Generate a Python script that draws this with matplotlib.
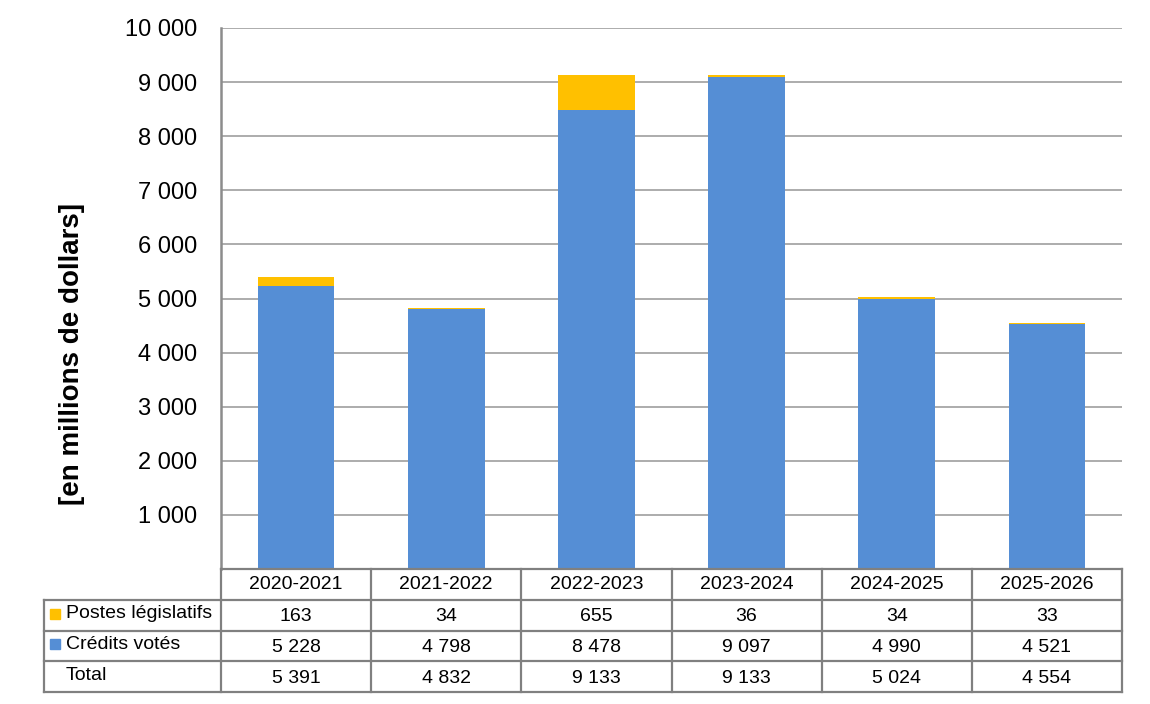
import numpy as np
import matplotlib.pyplot as plt

plt.rcParams['font.family'] = ['Liberation Sans', 'DejaVu Sans']

annees = ['2020-2021', '2021-2022', '2022-2023', '2023-2024', '2024-2025', '2025-2026']
postes_leg = [163, 34, 655, 36, 34, 33]
credits_votes = [5228, 4798, 8478, 9097, 4990, 4521]
totaux = [5391, 4832, 9133, 9133, 5024, 4554]
yticks = [1000, 2000, 3000, 4000, 5000, 6000, 7000, 8000, 9000, 10000]

BLEU = '#558ED5'
JAUNE = '#FFC000'
GRILLE = '#A6A6A6'
BORD = '#808080'


def fmt(v):
    # espace comme séparateur de milliers
    return '{:,}'.format(v).replace(',', ' ')


W, H = 1150, 704
fig = plt.figure(figsize=(W / 100, H / 100), dpi=100)

# graphique
ax = fig.add_axes([221 / W, (H - 569) / H, (1122 - 221) / W, (569 - 28) / H])
x = np.arange(len(annees))
ax.bar(x, credits_votes, width=0.51, color=BLEU, zorder=3)
ax.bar(x, postes_leg, width=0.51, bottom=credits_votes, color=JAUNE, zorder=3)
ax.set_xlim(-0.5, len(annees) - 0.5)
ax.set_ylim(0, 10000)
ax.set_yticks(yticks)
ax.set_yticklabels([fmt(v) for v in yticks], fontsize=17)
ax.set_xticks([])
ax.tick_params(axis='y', length=0, pad=17)
ax.grid(axis='y', color=GRILLE, lw=1.3, zorder=0)
for s in ['top', 'right', 'bottom']:
    ax.spines[s].set_visible(False)
ax.spines['left'].set_color('#8C8C8C')
ax.spines['left'].set_linewidth(1.8)
fig.text(72 / W, 1 - 354 / H, '[en millions de dollars]', rotation=90,
         fontsize=20, fontweight='bold', ha='center', va='center')

# tableau de données
x_gauche = -0.5 - (221 - 44) / ((1122 - 221) / len(annees))
tx = fig.add_axes([44 / W, (H - 692) / H, (1122 - 44) / W, (692 - 569) / H])
tx.set_xlim(x_gauche, len(annees) - 0.5)
tx.set_ylim(4, 0)
tx.axis('off')
lw = 1.6
# lignes horizontales
tx.plot([-0.5, len(annees) - 0.5], [0, 0], color=BORD, lw=lw, clip_on=False)
for r in [1, 2, 3, 4]:
    tx.plot([x_gauche, len(annees) - 0.5], [r, r], color=BORD, lw=lw, clip_on=False)
# lignes verticales
for c in range(len(annees) + 1):
    tx.plot([c - 0.5, c - 0.5], [0, 4], color=BORD, lw=lw, clip_on=False)
tx.plot([x_gauche, x_gauche], [1, 4], color=BORD, lw=lw, clip_on=False)

lignes = [('Postes législatifs', postes_leg, JAUNE),
          ('Crédits votés', credits_votes, BLEU),
          ('Total', totaux, None)]
for i, a in enumerate(annees):
    tx.text(i, 0.5, a, ha='center', va='center', fontsize=14)
for r, (nom, vals, coul) in enumerate(lignes, start=1):
    if coul is not None:
        tx.plot([x_gauche + 0.075], [r + 0.45], marker='s', ms=7.5, color=coul,
                mec=coul, clip_on=False)
    tx.text(x_gauche + 0.145, r + 0.45, nom, ha='left', va='center', fontsize=14)
    for i, v in enumerate(vals):
        tx.text(i, r + 0.55, fmt(v), ha='center', va='center', fontsize=14)

fig.savefig('out.png', dpi=100)
